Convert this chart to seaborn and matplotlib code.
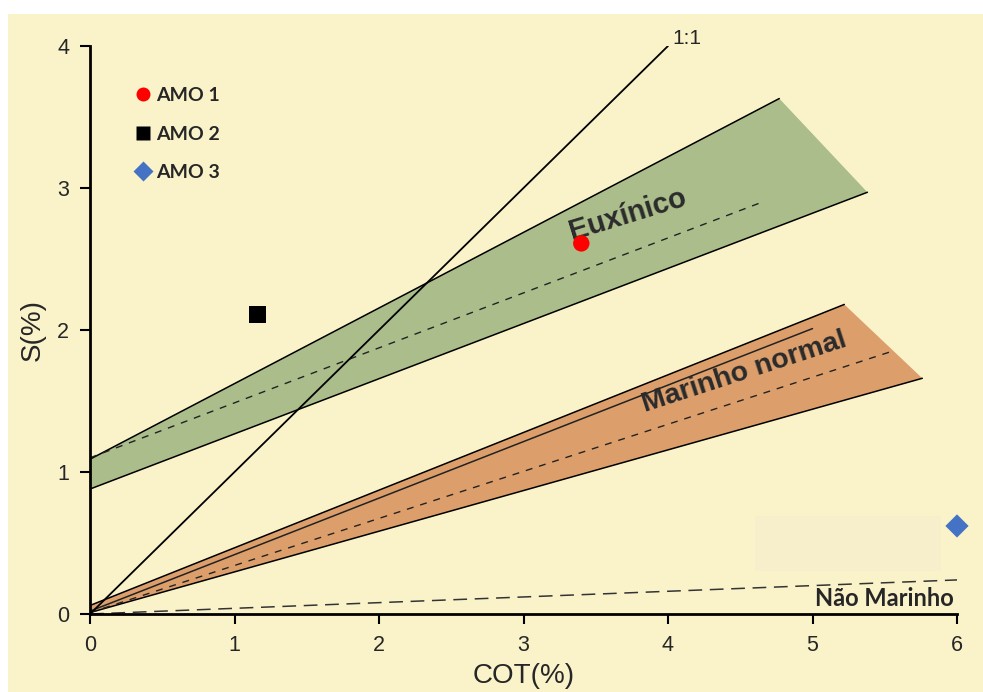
import matplotlib
matplotlib.use("Agg")
import matplotlib.pyplot as plt
import seaborn as sns
import pandas as pd
from matplotlib.patches import Polygon, Rectangle

# ---- data ----
samples = ["AMO 1", "AMO 2", "AMO 3"]
cot = [3.40, 1.16, 6.00]
s_pct = [2.61, 2.11, 0.62]
sample_colors = ["#FF0000", "#000000", "#4472C4"]
sample_markers = ["o", "s", "D"]

euxinic_poly_x = [0.0, 4.77, 5.38, 0.0]
euxinic_poly_y = [1.09, 3.63, 2.97, 0.88]
euxinic_mid_x = [0.0, 4.65]
euxinic_mid_y = [1.10, 2.90]

marine_poly_x = [0.0, 5.22, 5.76, 0.0]
marine_poly_y = [0.06, 2.18, 1.66, 0.01]
marine_solid_x = [0.0, 5.00]
marine_solid_y = [0.02, 2.01]
marine_dash_x = [0.0, 5.55]
marine_dash_y = [0.01, 1.85]

nonmarine_x = [0.0, 6.0]
nonmarine_y = [0.0, 0.24]

one_to_one_x = [0.0, 4.0]
one_to_one_y = [0.0, 4.0]

xticks = [0, 1, 2, 3, 4, 5, 6]
yticks = [0, 1, 2, 3, 4]

BG = "#FAF3CA"
TXT = "#262626"

sns.set_theme(style="white")
plt.rcParams["font.family"] = ["Liberation Sans", "DejaVu Sans"]

fig = plt.figure(figsize=(9.83, 6.92), dpi=100)
fig.patch.set_facecolor("white")
# yellow panel
fig.patches.append(Rectangle((8 / 983, 0), 1 - 8 / 983, 1 - 14 / 692,
                             transform=fig.transFigure, facecolor=BG,
                             edgecolor="none", zorder=-10))
ax = fig.add_axes([90 / 983, 1 - 614 / 692, (957 - 90) / 983, (614 - 46) / 692])
ax.set_facecolor("none")

# faint rectangle artifact
ax.add_patch(Rectangle((4.60, 0.30), 1.29, 0.39, facecolor="#F7EFCC",
                       edgecolor="none", zorder=0.5))

# bands
ax.add_patch(Polygon(list(zip(euxinic_poly_x, euxinic_poly_y)), closed=True,
                     facecolor="#AABD8A", edgecolor="none", zorder=1))
ax.plot(euxinic_poly_x[:2], euxinic_poly_y[:2], color="black", lw=1.1, zorder=2)
ax.plot([euxinic_poly_x[3], euxinic_poly_x[2]], [euxinic_poly_y[3], euxinic_poly_y[2]],
        color="black", lw=1.1, zorder=2)
ax.plot(euxinic_mid_x, euxinic_mid_y, color="#222222", lw=1.0, ls=(0, (5, 5)), zorder=2)

ax.add_patch(Polygon(list(zip(marine_poly_x, marine_poly_y)), closed=True,
                     facecolor="#DC9F6C", edgecolor="none", zorder=1))
ax.plot(marine_poly_x[:2], marine_poly_y[:2], color="black", lw=1.1, zorder=2)
ax.plot([marine_poly_x[3], marine_poly_x[2]], [marine_poly_y[3], marine_poly_y[2]],
        color="black", lw=1.1, zorder=2)
ax.plot(marine_solid_x, marine_solid_y, color="#222222", lw=1.1, zorder=2)
ax.plot(marine_dash_x, marine_dash_y, color="#222222", lw=1.0, ls=(0, (5, 5)), zorder=2)

ax.plot(nonmarine_x, nonmarine_y, color="#333333", lw=1.1, ls=(0, (9, 5)), zorder=2)
ax.plot(one_to_one_x, one_to_one_y, color="black", lw=1.3, zorder=3)

# samples
df = pd.DataFrame({"COT": cot, "S": s_pct, "Amostra": samples})
sns.scatterplot(data=df, x="COT", y="S", hue="Amostra", style="Amostra",
                palette=dict(zip(samples, sample_colors)),
                markers=dict(zip(samples, sample_markers)),
                s=140, edgecolor="none", ax=ax, zorder=5, clip_on=False)

leg = ax.legend(loc="upper left", bbox_to_anchor=(0.0388, 0.941), frameon=False,
                handletextpad=0.07, labelspacing=1.1, borderaxespad=0,
                prop={"family": ["Lato", "DejaVu Sans"], "weight": "bold", "size": 14},
                markerscale=0.85, handlelength=1.2)
for t in leg.get_texts():
    t.set_color(TXT)

# labels
ax.text(4.03, 4.05, "1:1", fontsize=15, color=TXT, ha="left", va="center")
ax.text(3.72, 2.81, "Euxínico", fontsize=21, fontweight="bold", color="#2B2B2B",
        rotation=17, ha="center", va="center", rotation_mode="anchor")
ax.text(4.53, 1.70, "Marinho normal", fontsize=20.5, fontweight="bold", color="#2B2B2B",
        rotation=18, ha="center", va="center", rotation_mode="anchor")
ax.text(5.98, 0.11, "Não Marinho", fontsize=17, fontweight="bold", color=TXT,
        family=["Lato", "DejaVu Sans"], ha="right", va="center")

ax.set_xlim(0, 6)
ax.set_ylim(0, 4)
ax.set_xticks(xticks)
ax.set_yticks(yticks)
ax.set_xticklabels([str(v) for v in xticks])
ax.set_yticklabels([str(v) for v in yticks])
ax.tick_params(axis="both", direction="out", length=7, width=1.5, colors="black",
               labelsize=15.5, labelcolor=TXT, pad=8, bottom=True, left=True)
for side in ["top", "right"]:
    ax.spines[side].set_visible(False)
for side in ["left", "bottom"]:
    ax.spines[side].set_color("black")
    ax.spines[side].set_linewidth(2)
ax.set_xlabel("COT(%)", fontsize=20, color=TXT, labelpad=5)
ax.set_ylabel("S(%)", fontsize=20, color=TXT, labelpad=8)

fig.savefig("out.png", dpi=100, facecolor=fig.get_facecolor())
